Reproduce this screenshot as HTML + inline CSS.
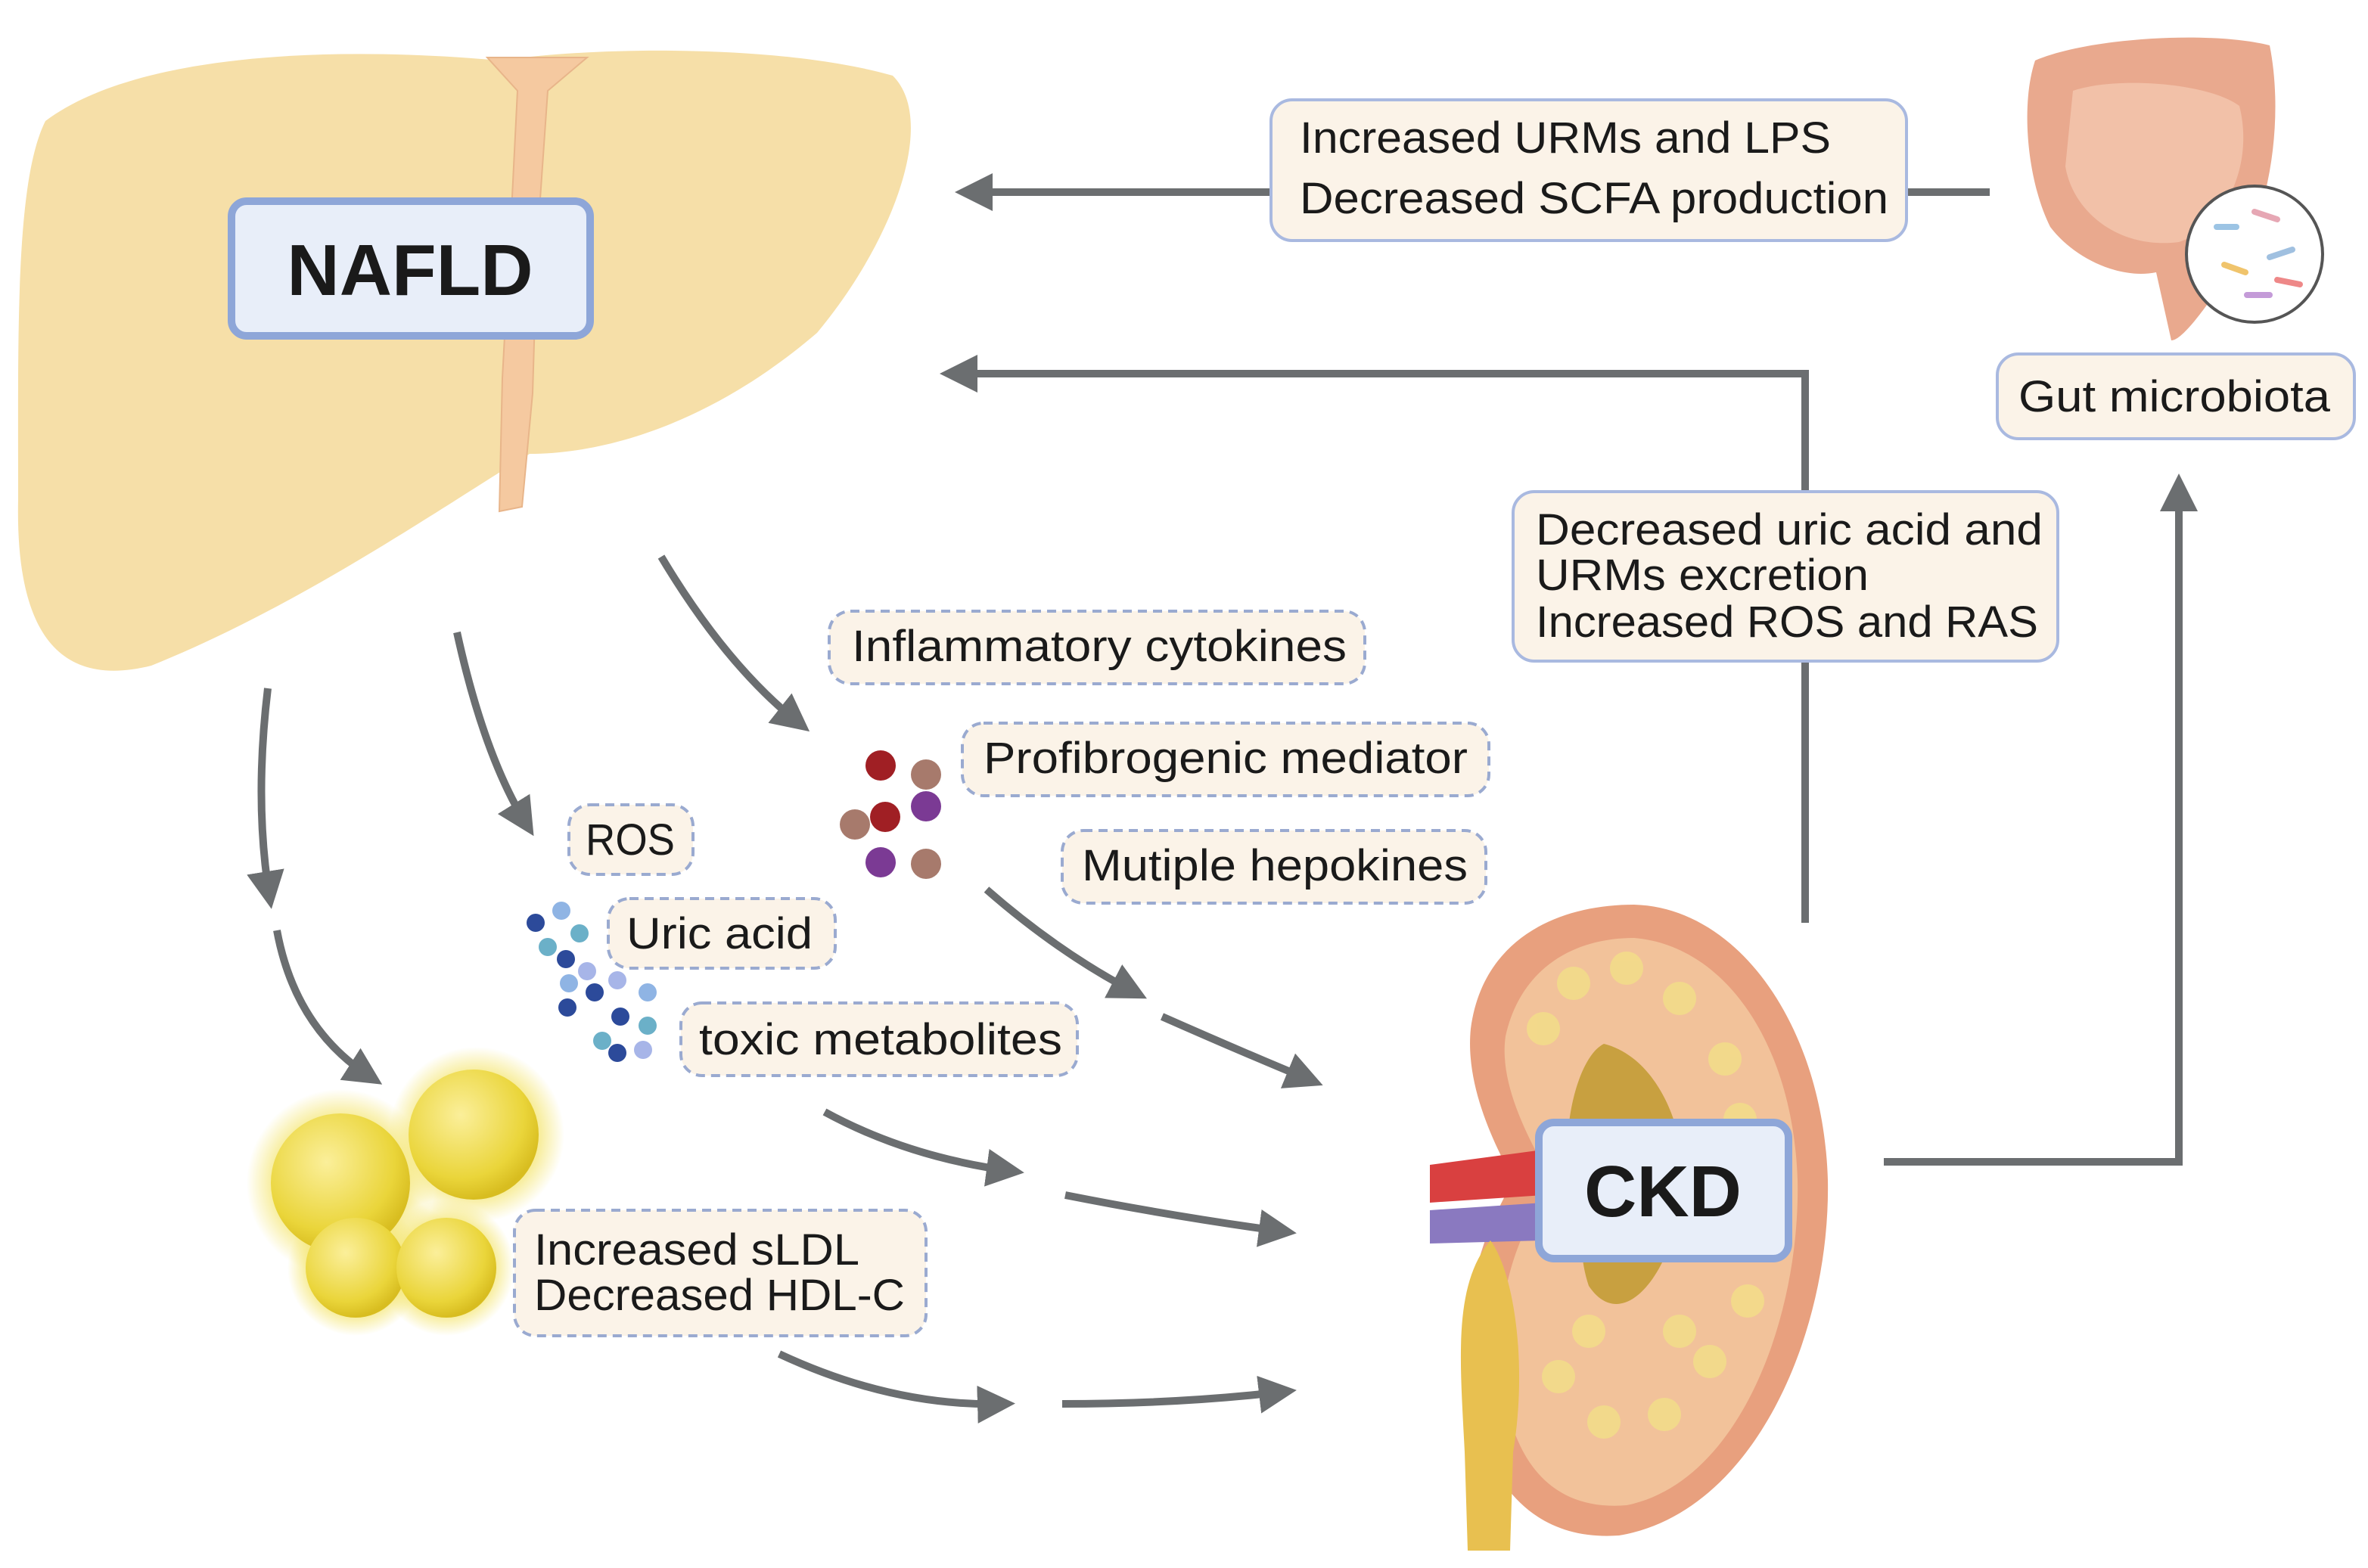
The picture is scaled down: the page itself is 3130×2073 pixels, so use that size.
<!DOCTYPE html>
<html><head><meta charset="utf-8"><style>
html,body{margin:0;padding:0;background:#fff;}
svg{display:block;}
text{font-family:"Liberation Sans",sans-serif;fill:#1a1a1a;}
</style></head><body>
<svg width="3130" height="2073" viewBox="0 0 1565 1036.5" xmlns="http://www.w3.org/2000/svg">
<defs>
<marker id="ah" markerWidth="5" markerHeight="5" refX="3.2" refY="2.5" orient="auto" markerUnits="strokeWidth">
<path d="M0,0 L5,2.5 L0,5 Z" fill="#6b6e70"/></marker>
<radialGradient id="fat" cx="40%" cy="35%" r="65%"><stop offset="0" stop-color="#fbef9a"/><stop offset="0.75" stop-color="#ead53a"/><stop offset="1" stop-color="#d8bd20"/></radialGradient>
<radialGradient id="glow"><stop offset="0.7" stop-color="#f5e77a" stop-opacity="0.8"/><stop offset="1" stop-color="#f5e77a" stop-opacity="0"/></radialGradient>
</defs>
<!-- Liver -->
<path d="M30,80 C90,35 220,30 330,40 C400,30 520,30 590,50 C620,80 590,160 540,220 C470,280 400,300 350,300 C300,330 200,400 100,440 C40,455 10,420 12,330 C12,220 10,120 30,80 Z" fill="#f6dfa8"/>
<path d="M322,38 L388,38 L362,60 L355,160 L352,260 L345,335 L330,338 L332,250 L338,140 L342,60 Z" fill="#f5c9a0" stroke="#e8b58a" stroke-width="1"/>
<rect x="153" y="133" width="237" height="89" rx="10" fill="#e8eef9" stroke="#8ea6d8" stroke-width="5"/>
<text x="271" y="195" font-size="48" font-weight="bold" text-anchor="middle">NAFLD</text>
<!-- gut -->
<path d="M1345,40 C1380,25 1460,20 1500,30 C1510,80 1500,150 1470,185 C1450,215 1440,225 1435,225 L1425,180 C1400,185 1370,170 1355,150 C1340,120 1335,70 1345,40 Z" fill="#e9a98e"/>
<path d="M1370,60 C1400,50 1460,55 1480,70 C1490,110 1470,150 1440,160 C1400,165 1370,140 1365,110 Z" fill="#f2c1a8"/>
<circle cx="1490" cy="168" r="45" fill="#fff" stroke="#555" stroke-width="2"/>
<g stroke-width="4" stroke-linecap="round"><line x1="1465" y1="150" x2="1478" y2="150" stroke="#9cc4e4"/><line x1="1490" y1="140" x2="1505" y2="145" stroke="#e6a7b4"/><line x1="1470" y1="175" x2="1484" y2="180" stroke="#f0c46c"/><line x1="1500" y1="170" x2="1515" y2="165" stroke="#a0c0e0"/><line x1="1485" y1="195" x2="1500" y2="195" stroke="#c49bd8"/><line x1="1505" y1="185" x2="1520" y2="188" stroke="#e88"/></g>
<!-- top arrows -->
<path d="M1315,127 L640,127" stroke="#6b6e70" stroke-width="5" fill="none" marker-end="url(#ah)"/>
<rect x="840" y="66" width="420" height="93" rx="14" fill="#fbf3e8" stroke="#a9b9e0" stroke-width="2"/>
<g font-size="29" lengthAdjust="spacingAndGlyphs">
<text x="859" y="101" textLength="351" lengthAdjust="spacingAndGlyphs">Increased URMs and LPS</text>
<text x="859" y="141" textLength="389" lengthAdjust="spacingAndGlyphs">Decreased SCFA production</text>
</g>
<path d="M1193,610 L1193,247 L630,247" stroke="#6b6e70" stroke-width="5" fill="none" marker-end="url(#ah)"/>
<rect x="1000" y="325" width="360" height="112" rx="14" fill="#fbf3e8" stroke="#a9b9e0" stroke-width="2"/>
<g font-size="29">
<text x="1015" y="360" textLength="335" lengthAdjust="spacingAndGlyphs">Decreased uric acid and</text>
<text x="1015" y="390" textLength="220" lengthAdjust="spacingAndGlyphs">URMs excretion</text>
<text x="1015" y="421" textLength="332" lengthAdjust="spacingAndGlyphs">Increased ROS and RAS</text>
</g>
<rect x="1320" y="234" width="236" height="56" rx="14" fill="#fbf3e8" stroke="#a9b9e0" stroke-width="2"/>
<text x="1334" y="272" font-size="29" textLength="206" lengthAdjust="spacingAndGlyphs">Gut microbiota</text>
<path d="M1245,768 L1440,768 L1440,322" stroke="#6b6e70" stroke-width="5" fill="none" marker-end="url(#ah)"/>
<!-- curved arrows -->
<g stroke="#6b6e70" stroke-width="5" fill="none" marker-end="url(#ah)">
<path d="M177,455 Q168,530 178,592"/>
<path d="M183,615 Q195,680 245,712"/>
<path d="M302,418 Q320,500 348,545"/>
<path d="M437,368 Q480,440 528,478"/>
<path d="M652,588 Q700,630 750,656"/>
<path d="M768,672 Q820,695 866,714"/>
<path d="M545,735 Q600,765 668,774"/>
<path d="M704,790 Q780,805 848,814"/>
<path d="M515,895 Q590,930 662,928"/>
<path d="M702,928 Q780,928 848,920"/>
</g>
<!-- dashed labels -->
<g fill="#fbf3e8" stroke="#9aaad0" stroke-width="2" stroke-dasharray="6,4">
<rect x="548" y="404" width="354" height="48" rx="14"/>
<rect x="636" y="478" width="348" height="48" rx="14"/>
<rect x="702" y="549" width="280" height="48" rx="14"/>
<rect x="376" y="532" width="82" height="46" rx="14"/>
<rect x="402" y="594" width="150" height="46" rx="14"/>
<rect x="450" y="663" width="262" height="48" rx="14"/>
<rect x="340" y="800" width="272" height="83" rx="14"/>
</g>
<g font-size="29">
<text x="563" y="437" textLength="327" lengthAdjust="spacingAndGlyphs">Inflammatory cytokines</text>
<text x="650" y="511" textLength="320" lengthAdjust="spacingAndGlyphs">Profibrogenic mediator</text>
<text x="715" y="582" textLength="255" lengthAdjust="spacingAndGlyphs">Mutiple hepokines</text>
<text x="387" y="565" textLength="59" lengthAdjust="spacingAndGlyphs">ROS</text>
<text x="414" y="627" textLength="123" lengthAdjust="spacingAndGlyphs">Uric acid</text>
<text x="462" y="697" textLength="240" lengthAdjust="spacingAndGlyphs">toxic metabolites</text>
<text x="353" y="836" textLength="215" lengthAdjust="spacingAndGlyphs">Increased sLDL</text>
<text x="353" y="866" textLength="245" lengthAdjust="spacingAndGlyphs">Decreased HDL-C</text>
</g>
<!-- molecules -->
<g>
<circle cx="582" cy="506" r="10" fill="#a01f24"/><circle cx="612" cy="512" r="10" fill="#a77a6c"/>
<circle cx="565" cy="545" r="10" fill="#a77a6c"/><circle cx="585" cy="540" r="10" fill="#a01f24"/>
<circle cx="612" cy="533" r="10" fill="#7b3a94"/><circle cx="582" cy="570" r="10" fill="#7b3a94"/><circle cx="612" cy="571" r="10" fill="#a77a6c"/>
</g>
<g>
<circle cx="354" cy="610" r="6" fill="#2c4a9a"/><circle cx="371" cy="602" r="6" fill="#8fb4e4"/><circle cx="362" cy="626" r="6" fill="#6bb0c8"/>
<circle cx="383" cy="617" r="6" fill="#6bb0c8"/><circle cx="374" cy="634" r="6" fill="#2c4a9a"/><circle cx="388" cy="642" r="6" fill="#a7b5e8"/>
<circle cx="376" cy="650" r="6" fill="#8fb4e4"/><circle cx="393" cy="656" r="6" fill="#2c4a9a"/><circle cx="408" cy="648" r="6" fill="#a7b5e8"/>
<circle cx="428" cy="656" r="6" fill="#8fb4e4"/><circle cx="375" cy="666" r="6" fill="#2c4a9a"/><circle cx="410" cy="672" r="6" fill="#2c4a9a"/>
<circle cx="428" cy="678" r="6" fill="#6bb0c8"/><circle cx="398" cy="688" r="6" fill="#6bb0c8"/><circle cx="408" cy="696" r="6" fill="#2c4a9a"/><circle cx="425" cy="694" r="6" fill="#a7b5e8"/>
</g>
<!-- fat -->
<circle cx="225" cy="782" r="62" fill="url(#glow)"/><circle cx="315" cy="750" r="58" fill="url(#glow)"/>
<circle cx="235" cy="838" r="45" fill="url(#glow)"/><circle cx="295" cy="838" r="45" fill="url(#glow)"/>
<circle cx="225" cy="782" r="46" fill="url(#fat)"/><circle cx="313" cy="750" r="43" fill="url(#fat)"/>
<circle cx="235" cy="838" r="33" fill="url(#fat)"/><circle cx="295" cy="838" r="33" fill="url(#fat)"/>
<!-- kidney -->
<path d="M1080,598 C1150,600 1205,680 1208,780 C1210,880 1160,1000 1070,1015 C1000,1020 968,960 970,880 C972,830 990,800 1000,780 C990,760 968,720 972,680 C980,620 1030,598 1080,598 Z" fill="#e8a07e"/>
<path d="M1080,620 C1140,625 1185,690 1188,780 C1190,870 1150,980 1075,995 C1015,1000 990,950 992,880 C994,830 1015,800 1025,780 C1015,760 990,720 995,685 C1005,640 1040,620 1080,620 Z" fill="#f2c29a"/>
<path d="M1060,690 C1100,700 1120,760 1110,800 C1100,850 1070,880 1050,850 C1040,820 1050,800 1040,780 C1030,760 1040,700 1060,690 Z" fill="#c8a040"/>
<g fill="#f3dc8a" opacity="0.9">
<circle cx="1040" cy="650" r="11"/><circle cx="1075" cy="640" r="11"/><circle cx="1110" cy="660" r="11"/><circle cx="1020" cy="680" r="11"/><circle cx="1140" cy="700" r="11"/><circle cx="1150" cy="740" r="11"/><circle cx="1155" cy="860" r="11"/><circle cx="1130" cy="900" r="11"/><circle cx="1100" cy="935" r="11"/><circle cx="1060" cy="940" r="11"/><circle cx="1030" cy="910" r="11"/><circle cx="1050" cy="880" r="11"/><circle cx="1110" cy="880" r="11"/>
</g>
<path d="M945,770 L1020,760 L1020,790 L945,795 Z" fill="#d94040"/>
<path d="M945,800 L1020,795 L1020,820 L945,822 Z" fill="#8a79c0"/>
<path d="M985,820 C1000,840 1010,900 1000,960 L998,1025 L970,1025 L968,960 C965,900 960,850 985,820 Z" fill="#e8c050"/>
<rect x="1017" y="742" width="165" height="90" rx="10" fill="#e8eef9" stroke="#8ea6d8" stroke-width="5"/>
<text x="1099" y="804" font-size="48" font-weight="bold" text-anchor="middle">CKD</text>
</svg>
</body></html>
